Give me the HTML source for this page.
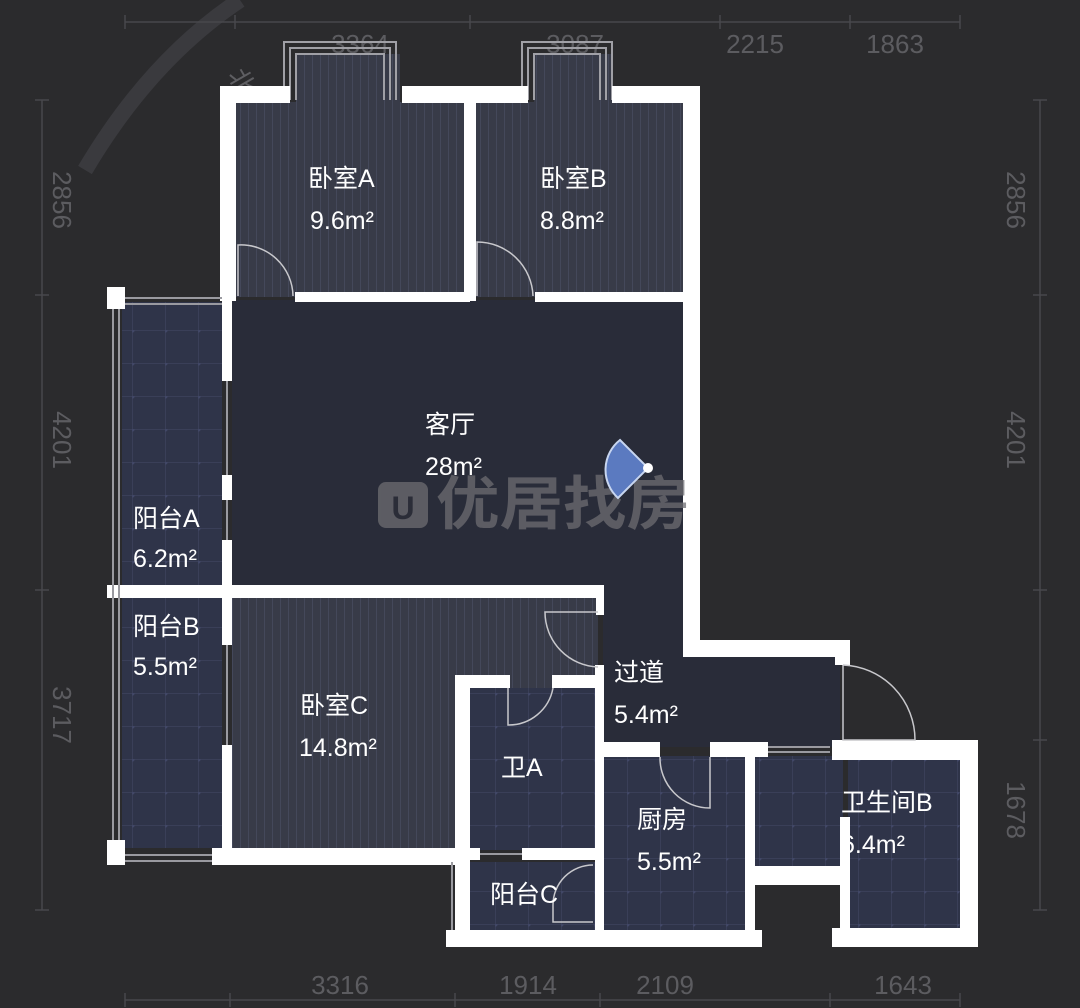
<!DOCTYPE html>
<html><head><meta charset="utf-8"><style>
html,body{margin:0;padding:0;background:#2b2b2d;}
svg{display:block}
text{font-family:"Liberation Sans","Noto Sans CJK SC",sans-serif;}
</style></head><body>
<svg width="1080" height="1008" viewBox="0 0 1080 1008" xmlns="http://www.w3.org/2000/svg">
<defs>
<pattern id="wood" width="8" height="20" patternUnits="userSpaceOnUse">
<rect width="8" height="20" fill="#383b48"/><line x1="0.5" y1="0" x2="0.5" y2="20" stroke="#44485a" stroke-width="1"/>
</pattern>
<pattern id="tile" width="33" height="33" patternUnits="userSpaceOnUse">
<rect width="33" height="33" fill="#2f3449"/><path d="M0 0.5H33M0.5 0V33" stroke="#3a3f58" stroke-width="1"/><circle cx="0.5" cy="0.5" r="2" fill="#414766"/>
</pattern>
</defs>
<rect width="1080" height="1008" fill="#2b2b2d"/>
<!-- compass arc -->
<path d="M85 170 Q150 60 240 0" stroke="#3a3a3e" stroke-width="16" fill="none"/>
<text x="236" y="80" fill="#5e5e62" font-size="26" transform="rotate(60 236 70)">北</text>
<!-- dimension lines -->
<g stroke="#48484c" stroke-width="1.5" fill="none">
<line x1="125" y1="22" x2="960" y2="22"/><line x1="125" y1="1000" x2="960" y2="1000"/>
<line x1="42" y1="100" x2="42" y2="910"/><line x1="1040" y1="100" x2="1040" y2="910"/>
<path d="M125 15v14M235 15v14M470 15v14M720 15v14M850 15v14M960 15v14M125 993v14M230 993v14M455 993v14M600 993v14M830 993v14M960 993v14M35 100h14M35 295h14M35 590h14M35 910h14M1033 100h14M1033 295h14M1033 590h14M1033 740h14M1033 910h14"/>
</g>
<g fill="#5c5c60" font-size="26" text-anchor="middle">
<text x="360" y="53">3364</text><text x="575" y="53">3087</text><text x="755" y="53">2215</text><text x="895" y="53">1863</text>
<text x="340" y="994">3316</text><text x="528" y="994">1914</text><text x="665" y="994">2109</text><text x="903" y="994">1643</text>
<text transform="translate(53 200) rotate(90)">2856</text>
<text transform="translate(53 440) rotate(90)">4201</text>
<text transform="translate(53 715) rotate(90)">3717</text>
<text transform="translate(1007 200) rotate(90)">2856</text>
<text transform="translate(1007 440) rotate(90)">4201</text>
<text transform="translate(1007 810) rotate(90)">1678</text>
</g>
<!-- room fills -->
<rect x="236" y="102" width="230" height="195" fill="url(#wood)"/>
<rect x="296" y="54" width="104" height="50" fill="url(#wood)"/>
<rect x="475" y="102" width="208" height="195" fill="url(#wood)"/>
<rect x="534" y="54" width="78" height="50" fill="url(#wood)"/>
<rect x="232" y="300" width="452" height="290" fill="#292c39"/>
<rect x="603" y="590" width="80" height="70" fill="#292c39"/>
<rect x="603" y="655" width="237" height="92" fill="#292c39"/>
<rect x="122" y="302" width="100" height="546" fill="url(#tile)"/>
<rect x="232" y="596" width="366" height="254" fill="url(#wood)"/>
<rect x="470" y="688" width="127" height="162" fill="url(#tile)"/>
<rect x="460" y="862" width="137" height="70" fill="url(#tile)"/>
<rect x="603" y="756" width="144" height="176" fill="url(#tile)"/>
<rect x="755" y="756" width="88" height="112" fill="url(#tile)"/>
<rect x="848" y="758" width="114" height="172" fill="url(#tile)"/>
<!-- bay window frames (gray) -->
<g stroke="#a0a0a6" stroke-width="2" fill="none">
<path d="M284 100V42H396V100M290 100V48H390V100M296 100V54H384V100"/>
<path d="M522 100V42H612V100M528 100V48H606V100M534 100V54H600V100"/>
</g>
<!-- walls -->
<g fill="#ffffff">
<rect x="220" y="86" width="70" height="17"/><rect x="402" y="86" width="126" height="17"/><rect x="612" y="86" width="88" height="17"/>
<rect x="220" y="86" width="16" height="215"/>
<rect x="464" y="86" width="12" height="215"/>
<rect x="683" y="86" width="17" height="571"/>
<rect x="295" y="292" width="175" height="10"/><rect x="535" y="292" width="150" height="10"/>
<rect x="222" y="296" width="10" height="85"/><rect x="222" y="475" width="10" height="25"/><rect x="222" y="540" width="10" height="105"/><rect x="222" y="745" width="10" height="110"/>
<rect x="107" y="287" width="18" height="22"/><rect x="107" y="840" width="18" height="25"/>
<rect x="107" y="585" width="495" height="13"/>
<rect x="596" y="585" width="8" height="30"/>
<rect x="212" y="848" width="258" height="17"/>
<rect x="455" y="675" width="15" height="270"/>
<rect x="455" y="675" width="55" height="13"/><rect x="552" y="675" width="48" height="13"/>
<rect x="595" y="665" width="9" height="280"/>
<rect x="470" y="848" width="10" height="12"/><rect x="522" y="848" width="75" height="12"/>
<rect x="446" y="930" width="316" height="17"/>
<rect x="683" y="640" width="167" height="17"/><rect x="835" y="640" width="15" height="25"/>
<rect x="600" y="742" width="60" height="15"/><rect x="710" y="742" width="58" height="15"/>
<rect x="832" y="740" width="146" height="20"/>
<rect x="745" y="742" width="10" height="205"/>
<rect x="745" y="866" width="105" height="19"/>
<rect x="840" y="817" width="10" height="130"/>
<rect x="832" y="928" width="146" height="19"/>
<rect x="960" y="740" width="18" height="207"/>
</g>
<!-- windows gray lines -->
<g stroke="#9a9aa0" stroke-width="2" fill="none">
<line x1="125" y1="298" x2="222" y2="298"/><line x1="125" y1="304" x2="222" y2="304"/>
<line x1="113" y1="309" x2="113" y2="840"/><line x1="119" y1="309" x2="119" y2="840"/>
<line x1="125" y1="855" x2="212" y2="855"/><line x1="125" y1="861" x2="212" y2="861"/>
<line x1="227" y1="381" x2="227" y2="475"/><line x1="227" y1="500" x2="227" y2="540"/>
<line x1="227" y1="645" x2="227" y2="745"/>
<line x1="480" y1="854" x2="522" y2="854"/>
<line x1="768" y1="747" x2="830" y2="747"/><line x1="768" y1="752" x2="830" y2="752"/>
<line x1="452" y1="862" x2="452" y2="930"/>
</g>
<!-- doors -->
<g stroke="#c8c8cc" stroke-width="1.5" fill="none">
<path d="M238 296V245A52 52 0 0 1 293 296"/>
<path d="M477 296V242A56 56 0 0 1 533 296"/>
<path d="M598 612H545A55 55 0 0 0 598 667"/>
<path d="M508 688V725A45 45 0 0 0 553 688"/>
<path d="M710 757V808A50 50 0 0 1 660 757"/>
<path d="M593 865A40 40 0 0 0 553 905V922H593"/>
<path d="M843 665V740H915A75 75 0 0 0 843 665"/>
</g>
<!-- watermark -->
<g fill="#6d6d72" opacity="0.75">
<rect x="378" y="482" width="50" height="46" rx="8"/>
<text x="436" y="524" font-size="58" textLength="254" lengthAdjust="spacingAndGlyphs" font-weight="bold">优居找房</text>
</g>
<text x="403" y="519" fill="#2b2d38" font-size="32" text-anchor="middle" font-weight="bold">U</text>
<!-- camera -->
<path d="M648 468L620 440A38 38 0 0 0 618 498Z" fill="#5b7ac0" stroke="#c8d6f0" stroke-width="2"/>
<circle cx="648" cy="468" r="5" fill="#fff"/>
<!-- labels -->
<g fill="#ffffff" font-size="25">
<text x="308" y="187">卧室A</text><text x="310" y="229">9.6m²</text>
<text x="540" y="187">卧室B</text><text x="540" y="229">8.8m²</text>
<text x="425" y="433">客厅</text><text x="425" y="475">28m²</text>
<text x="133" y="527">阳台A</text><text x="133" y="567">6.2m²</text>
<text x="133" y="635">阳台B</text><text x="133" y="675">5.5m²</text>
<text x="300" y="714">卧室C</text><text x="299" y="756">14.8m²</text>
<text x="614" y="681">过道</text><text x="614" y="723">5.4m²</text>
<text x="501" y="776">卫A</text>
<text x="637" y="828">厨房</text><text x="637" y="870">5.5m²</text>
<text x="841" y="811">卫生间B</text><text x="841" y="853">6.4m²</text>
<text x="490" y="903">阳台C</text>
</g>
</svg>
</body></html>
